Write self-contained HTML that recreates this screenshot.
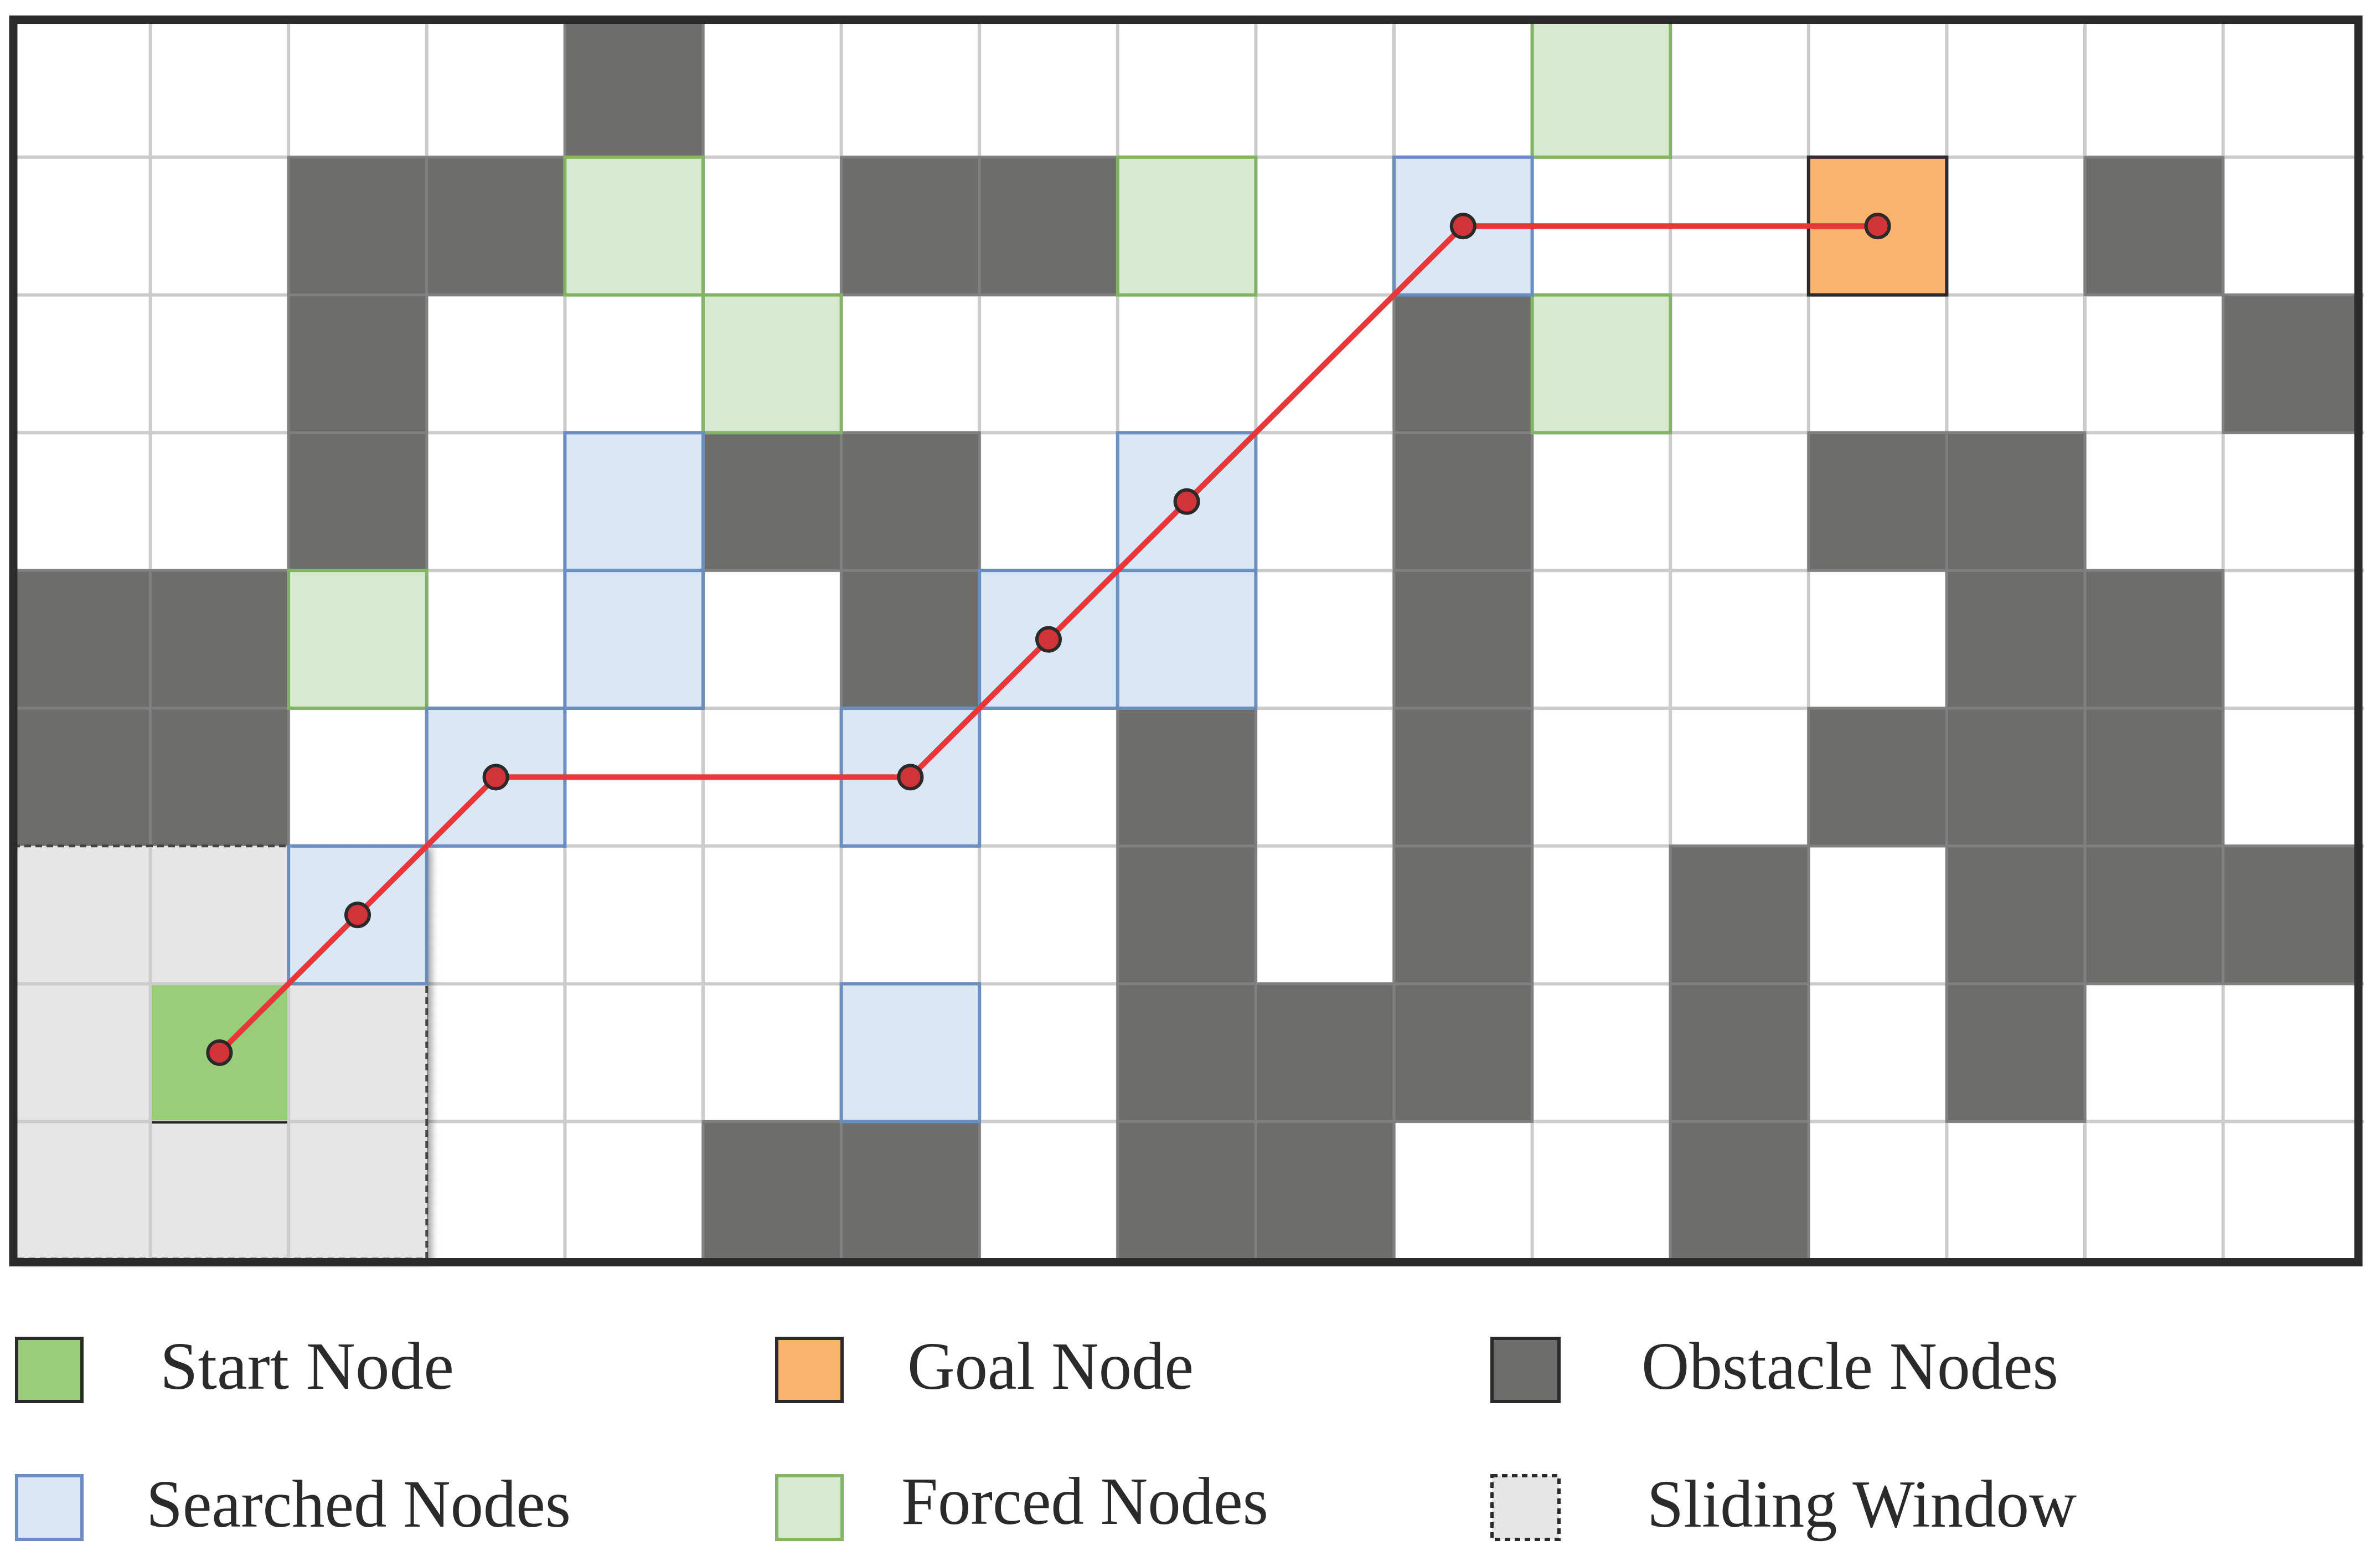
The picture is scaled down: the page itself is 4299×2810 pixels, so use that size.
<!DOCTYPE html>
<html><head><meta charset="utf-8"><style>
html,body{margin:0;padding:0;background:#fff;}
svg{display:block;}
text{font-family:"Liberation Serif",serif;fill:#2a2a2a;font-size:122px;}
</style></head><body>
<svg width="4299" height="2810" viewBox="0 0 4299 2810" xmlns="http://www.w3.org/2000/svg">
<defs>
<filter id="sh" x="-10%" y="-10%" width="130%" height="130%"><feDropShadow dx="8" dy="6" stdDeviation="6" flood-color="#000" flood-opacity="0.35"/></filter>
</defs>
<rect x="0" y="0" width="4299" height="2810" fill="#fff"/>
<g id="grid" stroke="#cccccc" stroke-width="6">
<line x1="271.6" y1="30" x2="271.6" y2="2285"/><line x1="521.2" y1="30" x2="521.2" y2="2285"/><line x1="770.8" y1="30" x2="770.8" y2="2285"/><line x1="1020.4" y1="30" x2="1020.4" y2="2285"/><line x1="1270" y1="30" x2="1270" y2="2285"/><line x1="1519.6" y1="30" x2="1519.6" y2="2285"/><line x1="1769.2" y1="30" x2="1769.2" y2="2285"/><line x1="2018.8" y1="30" x2="2018.8" y2="2285"/><line x1="2268.4" y1="30" x2="2268.4" y2="2285"/><line x1="2518" y1="30" x2="2518" y2="2285"/><line x1="2767.6" y1="30" x2="2767.6" y2="2285"/><line x1="3017.2" y1="30" x2="3017.2" y2="2285"/><line x1="3266.8" y1="30" x2="3266.8" y2="2285"/><line x1="3516.4" y1="30" x2="3516.4" y2="2285"/><line x1="3766" y1="30" x2="3766" y2="2285"/><line x1="4015.6" y1="30" x2="4015.6" y2="2285"/>
<line x1="20" y1="283.8" x2="4270" y2="283.8"/><line x1="20" y1="532.6" x2="4270" y2="532.6"/><line x1="20" y1="781.4" x2="4270" y2="781.4"/><line x1="20" y1="1030.2" x2="4270" y2="1030.2"/><line x1="20" y1="1279" x2="4270" y2="1279"/><line x1="20" y1="1527.8" x2="4270" y2="1527.8"/><line x1="20" y1="1776.6" x2="4270" y2="1776.6"/><line x1="20" y1="2025.4" x2="4270" y2="2025.4"/>
</g>
<g fill="#6d6d6b" stroke="#808080" stroke-width="5">
<rect x="1020.4" y="35" width="249.6" height="248.8"/>
<rect x="521.2" y="283.8" width="249.6" height="248.8"/><rect x="770.8" y="283.8" width="249.6" height="248.8"/><rect x="1519.6" y="283.8" width="249.6" height="248.8"/><rect x="1769.2" y="283.8" width="249.6" height="248.8"/><rect x="3766" y="283.8" width="249.6" height="248.8"/>
<rect x="521.2" y="532.6" width="249.6" height="248.8"/><rect x="2518" y="532.6" width="249.6" height="248.8"/><rect x="4015.6" y="532.6" width="249.6" height="248.8"/>
<rect x="521.2" y="781.4" width="249.6" height="248.8"/><rect x="1270" y="781.4" width="249.6" height="248.8"/><rect x="1519.6" y="781.4" width="249.6" height="248.8"/><rect x="2518" y="781.4" width="249.6" height="248.8"/><rect x="3266.8" y="781.4" width="249.6" height="248.8"/><rect x="3516.4" y="781.4" width="249.6" height="248.8"/>
<rect x="22" y="1030.2" width="249.6" height="248.8"/><rect x="271.6" y="1030.2" width="249.6" height="248.8"/><rect x="1519.6" y="1030.2" width="249.6" height="248.8"/><rect x="2518" y="1030.2" width="249.6" height="248.8"/><rect x="3516.4" y="1030.2" width="249.6" height="248.8"/><rect x="3766" y="1030.2" width="249.6" height="248.8"/>
<rect x="22" y="1279" width="249.6" height="248.8"/><rect x="271.6" y="1279" width="249.6" height="248.8"/><rect x="2018.8" y="1279" width="249.6" height="248.8"/><rect x="2518" y="1279" width="249.6" height="248.8"/><rect x="3266.8" y="1279" width="249.6" height="248.8"/><rect x="3516.4" y="1279" width="249.6" height="248.8"/><rect x="3766" y="1279" width="249.6" height="248.8"/>
<rect x="2018.8" y="1527.8" width="249.6" height="248.8"/><rect x="2518" y="1527.8" width="249.6" height="248.8"/><rect x="3017.2" y="1527.8" width="249.6" height="248.8"/><rect x="3516.4" y="1527.8" width="249.6" height="248.8"/><rect x="3766" y="1527.8" width="249.6" height="248.8"/><rect x="4015.6" y="1527.8" width="249.6" height="248.8"/>
<rect x="2018.8" y="1776.6" width="249.6" height="248.8"/><rect x="2268.4" y="1776.6" width="249.6" height="248.8"/><rect x="2518" y="1776.6" width="249.6" height="248.8"/><rect x="3017.2" y="1776.6" width="249.6" height="248.8"/><rect x="3516.4" y="1776.6" width="249.6" height="248.8"/>
<rect x="1270" y="2025.4" width="249.6" height="248.8"/><rect x="1519.6" y="2025.4" width="249.6" height="248.8"/><rect x="2018.8" y="2025.4" width="249.6" height="248.8"/><rect x="2268.4" y="2025.4" width="249.6" height="248.8"/><rect x="3017.2" y="2025.4" width="249.6" height="248.8"/>
</g>
<g fill="#d9ead3" stroke="#82b366" stroke-width="6">
<rect x="2767.6" y="35" width="249.6" height="248.8"/>
<rect x="1020.4" y="283.8" width="249.6" height="248.8"/><rect x="2018.8" y="283.8" width="249.6" height="248.8"/>
<rect x="1270" y="532.6" width="249.6" height="248.8"/><rect x="2767.6" y="532.6" width="249.6" height="248.8"/>
<rect x="521.2" y="1030.2" width="249.6" height="248.8"/>
</g>
<rect x="24" y="1527.8" width="746.8" height="746" fill="#e6e6e6" stroke="#444" stroke-width="5" stroke-dasharray="12,8" filter="url(#sh)"/>
<g stroke="#cccccc" stroke-width="6">
<line x1="271.6" y1="1530" x2="271.6" y2="2272"/><line x1="521.2" y1="1530" x2="521.2" y2="2272"/>
<line x1="26" y1="1776.6" x2="768" y2="1776.6"/><line x1="26" y1="2025.4" x2="768" y2="2025.4"/>
</g>
<g fill="#dae8f5" stroke="#6c8ebf" stroke-width="6">
<rect x="2518" y="283.8" width="249.6" height="248.8"/>
<rect x="1020.4" y="781.4" width="249.6" height="248.8"/><rect x="2018.8" y="781.4" width="249.6" height="248.8"/>
<rect x="1020.4" y="1030.2" width="249.6" height="248.8"/><rect x="1769.2" y="1030.2" width="249.6" height="248.8"/><rect x="2018.8" y="1030.2" width="249.6" height="248.8"/>
<rect x="770.8" y="1279" width="249.6" height="248.8"/><rect x="1519.6" y="1279" width="249.6" height="248.8"/>
<rect x="521.2" y="1527.8" width="249.6" height="248.8"/>
<rect x="1519.6" y="1776.6" width="249.6" height="248.8"/>
</g>
<rect x="274" y="1779" width="245" height="244" fill="#9acd7a"/>
<line x1="274" y1="2027" x2="519" y2="2027" stroke="#222" stroke-width="4"/>
<rect x="3266.8" y="283.8" width="249.6" height="248.8" fill="#f8b46e" stroke="#2a2a2a" stroke-width="6"/>
<rect x="24" y="35.5" width="4236" height="2244" fill="none" stroke="#2a2a2a" stroke-width="15"/>
<polyline points="396.4,1901 646,1652.2 895.6,1403.4 1644.4,1403.4 1894,1154.6 2143.6,905.8 2642.8,408.2 3391.6,408.2" fill="none" stroke="#ea3539" stroke-width="10" stroke-linejoin="round"/>
<g fill="#d13438" stroke="#2a2a2a" stroke-width="6">
<circle cx="396.4" cy="1901" r="21"/><circle cx="646" cy="1652.2" r="21"/><circle cx="895.6" cy="1403.4" r="21"/><circle cx="1644.4" cy="1403.4" r="21"/><circle cx="1894" cy="1154.6" r="21"/><circle cx="2143.6" cy="905.8" r="21"/><circle cx="2642.8" cy="408.2" r="21"/><circle cx="3391.6" cy="408.2" r="21"/>
</g>
<rect x="30" y="2417" width="118" height="114" fill="#9acd7a" stroke="#2a2a2a" stroke-width="6"/>
<rect x="1403" y="2417" width="118" height="114" fill="#f8b46e" stroke="#2a2a2a" stroke-width="6"/>
<rect x="2695" y="2417" width="121" height="114" fill="#6d6d6b" stroke="#2a2a2a" stroke-width="6"/>
<rect x="30" y="2665" width="118" height="115" fill="#dae8f5" stroke="#6c8ebf" stroke-width="6"/>
<rect x="1403" y="2665" width="118" height="115" fill="#d9ead3" stroke="#82b366" stroke-width="6"/>
<rect x="2695" y="2665" width="121" height="115" fill="#e6e6e6" stroke="#2a2a2a" stroke-width="6" stroke-dasharray="10,8"/>
<text x="289" y="2508" textLength="531" lengthAdjust="spacingAndGlyphs">Start Node</text>
<text x="1639" y="2508" textLength="517" lengthAdjust="spacingAndGlyphs">Goal Node</text>
<text x="2965" y="2508" textLength="753" lengthAdjust="spacingAndGlyphs">Obstacle Nodes</text>
<text x="264" y="2757" textLength="767" lengthAdjust="spacingAndGlyphs">Searched Nodes</text>
<text x="1628" y="2752" textLength="663" lengthAdjust="spacingAndGlyphs">Forced Nodes</text>
<text x="2975" y="2757" textLength="776" lengthAdjust="spacingAndGlyphs">Sliding Window</text>
</svg>
</body></html>
